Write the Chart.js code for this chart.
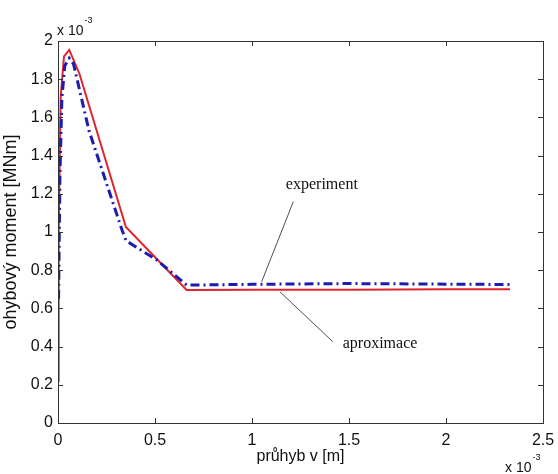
<!DOCTYPE html>
<html>
<head>
<meta charset="utf-8">
<script src="https://cdn.jsdelivr.net/npm/chart.js@4/dist/chart.umd.min.js"></script>
<style>
  html, body { margin: 0; padding: 0; background: #fff; }
  #wrap { width: 558px; height: 474px; }
</style>
</head>
<body>
<div id="wrap"><canvas id="chart"></canvas></div>
<script>
// values in units of 1e-3 (x: deflection [m], y: moment [MNm])
const aproxX = [0, 0.002, 0.005, 0.014, 0.031, 0.058, 0.11, 0.35, 0.663, 1.0, 1.5, 2.0, 2.33];
const aproxY = [0.22, 0.65, 1.01, 1.71, 1.92, 1.953, 1.83, 1.026, 0.696, 0.697, 0.698, 0.70, 0.70];
const expX = [0.003, 0.01, 0.02, 0.035, 0.058, 0.08, 0.16, 0.33, 0.35, 0.51, 0.663, 1.0, 1.5, 2.0, 2.33];
const expY = [0.65, 1.3, 1.7, 1.87, 1.91, 1.88, 1.53, 1.01, 0.955, 0.853, 0.722, 0.726, 0.73, 0.727, 0.725];
const xTicks = [0, 0.5, 1, 1.5, 2, 2.5];
const yTicks = [0, 0.2, 0.4, 0.6, 0.8, 1, 1.2, 1.4, 1.6, 1.8, 2];

// annotation labels with leader lines, in data units
const notes = [
    { text: 'experiment', at: [1.36, 1.246], from: [1.213, 1.159], to: [1.05, 0.74] },
    { text: 'aproximace', at: [1.66, 0.414], from: [1.416, 0.426], to: [1.144, 0.687] }
];

const toPoints = (xs, ys) => xs.map((x, i) => ({ x: x, y: ys[i] }));

const sansFont = "'Liberation Sans', Arial, sans-serif";

function drawExponent(ctx, left, baseline) {
    ctx.font = '14px ' + sansFont;
    ctx.fillText('x 10', left, baseline);
    const w = ctx.measureText('x 10').width;
    ctx.font = '9px ' + sansFont;
    ctx.fillText('-3', left + w + 1, baseline - 12);
}

const matlabAxes = {
    id: 'matlabAxes',
    afterDraw(chart) {
        const { ctx, chartArea: a, scales: { x, y } } = chart;
        ctx.save();
        ctx.strokeStyle = '#333';
        ctx.lineWidth = 1;
        ctx.strokeRect(a.left + 0.5, a.top + 0.5, a.right - a.left, a.bottom - a.top);
        ctx.beginPath();
        xTicks.forEach(v => {
            const px = Math.round(x.getPixelForValue(v)) + 0.5;
            ctx.moveTo(px, a.bottom); ctx.lineTo(px, a.bottom - 5);
            ctx.moveTo(px, a.top); ctx.lineTo(px, a.top + 5);
        });
        yTicks.forEach(v => {
            const py = Math.round(y.getPixelForValue(v)) + 0.5;
            ctx.moveTo(a.left, py); ctx.lineTo(a.left + 5, py);
            ctx.moveTo(a.right, py); ctx.lineTo(a.right - 5, py);
        });
        ctx.stroke();

        // exponent labels
        ctx.fillStyle = '#111';
        ctx.textBaseline = 'alphabetic';
        ctx.textAlign = 'left';
        drawExponent(ctx, 57, 35);
        drawExponent(ctx, 505, 472);

        // annotations
        ctx.strokeStyle = '#222';
        ctx.lineWidth = 0.8;
        ctx.font = '16px "Liberation Serif", "Times New Roman", serif';
        ctx.textAlign = 'center';
        ctx.textBaseline = 'middle';
        notes.forEach(n => {
            ctx.beginPath();
            ctx.moveTo(x.getPixelForValue(n.from[0]), y.getPixelForValue(n.from[1]));
            ctx.lineTo(x.getPixelForValue(n.to[0]), y.getPixelForValue(n.to[1]));
            ctx.stroke();
            ctx.fillText(n.text, x.getPixelForValue(n.at[0]), y.getPixelForValue(n.at[1]));
        });
        ctx.restore();
    }
};

new Chart(document.getElementById('chart'), {
    type: 'scatter',
    data: {
        datasets: [
            {
                label: 'experiment',
                data: toPoints(expX, expY),
                showLine: true,
                borderColor: '#1c1cae',
                borderWidth: 3,
                borderDash: [9, 4, 2, 4],
                pointRadius: 0,
                tension: 0
            },
            {
                label: 'aproximace',
                data: toPoints(aproxX, aproxY),
                showLine: true,
                borderColor: '#e0242c',
                borderWidth: 2,
                pointRadius: 0,
                tension: 0
            }
        ]
    },
    options: {
        responsive: true,
        maintainAspectRatio: false,
        animation: false,
        layout: { padding: { left: 0, right: 15, top: 41, bottom: 0 } },
        plugins: { legend: { display: false }, tooltip: { enabled: false } },
        scales: {
            x: {
                type: 'linear',
                min: 0,
                max: 2.5,
                afterBuildTicks: s => { s.ticks = xTicks.map(v => ({ value: v })); },
                afterFit: s => { s.height = 51; s.paddingLeft = 0; s.paddingRight = 0; },
                grid: { display: false, drawTicks: false },
                border: { display: false },
                ticks: {
                    color: '#111',
                    font: { family: sansFont, size: 16 },
                    padding: 8,
                    maxRotation: 0,
                    callback: v => String(+v.toFixed(1))
                },
                title: {
                    display: true,
                    text: 'průhyb v [m]',
                    color: '#111',
                    font: { family: sansFont, size: 16 },
                    padding: { top: 0, bottom: 7.5 }
                }
            },
            y: {
                type: 'linear',
                min: 0,
                max: 2,
                afterBuildTicks: s => { s.ticks = yTicks.map(v => ({ value: v })); },
                afterFit: s => { s.width = 58; s.paddingTop = 0; s.paddingBottom = 0; },
                grid: { display: false, drawTicks: false },
                border: { display: false },
                ticks: {
                    color: '#111',
                    font: { family: sansFont, size: 16 },
                    padding: 5,
                    callback: v => String(+v.toFixed(1))
                },
                title: {
                    display: true,
                    text: 'ohybový moment [MNm]',
                    color: '#111',
                    font: { family: sansFont, size: 18 },
                    padding: { top: 0, bottom: 0 }
                }
            }
        }
    },
    plugins: [matlabAxes]
});
</script>
</body>
</html>
